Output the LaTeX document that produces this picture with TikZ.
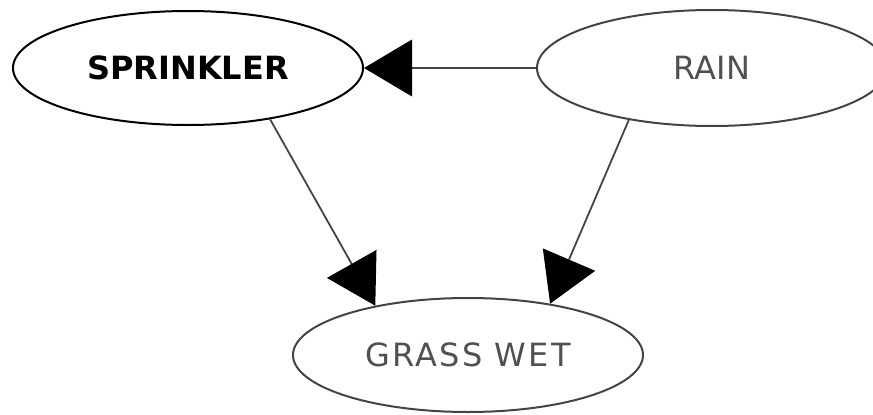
\documentclass[tikz,border=0pt]{standalone}
\usepackage{fontspec}
\setmainfont{DejaVu Sans}
\newfontfamily\spacedsans[LetterSpace=7]{DejaVu Sans}
\usetikzlibrary{shapes.geometric,arrows.meta}
\definecolor{edgegray}{HTML}{444444}
\definecolor{textgray}{HTML}{505050}
\tikzset{
  var/.style={ellipse, draw, line width=2pt, inner sep=0pt,
    minimum width=350pt, minimum height=114pt,
    font=\fontsize{32}{38}\selectfont},
  mainvar/.style={var, draw=black, text=black, font=\fontsize{32}{38}\selectfont\bfseries},
  othervar/.style={var, draw=edgegray, text=textgray},
  link/.style={draw=edgegray, line width=1.8pt,
    -{Triangle[length=48pt,width=57pt,fill=black,line width=0pt]}}
}
\begin{document}
\begin{tikzpicture}[x=1pt,y=-1pt]
  \useasboundingbox (0,0) rectangle (873,415);
  \clip (0,0) rectangle (873,415);
  \node[mainvar]  (spr)  at (188,68)  {SPRINKLER};
  \node[othervar, minimum height=116pt] (rain) at (712,68) {RAIN};
  \node[othervar] (grass) at (468,355) {\spacedsans GRASS WET};
  \draw[link] (rain.west) -- (spr.east);
  \draw[link] (spr.-32) -- (grass.152.6);
  \draw[link] (rain.212) -- (grass.32.8);
\end{tikzpicture}
\end{document}
